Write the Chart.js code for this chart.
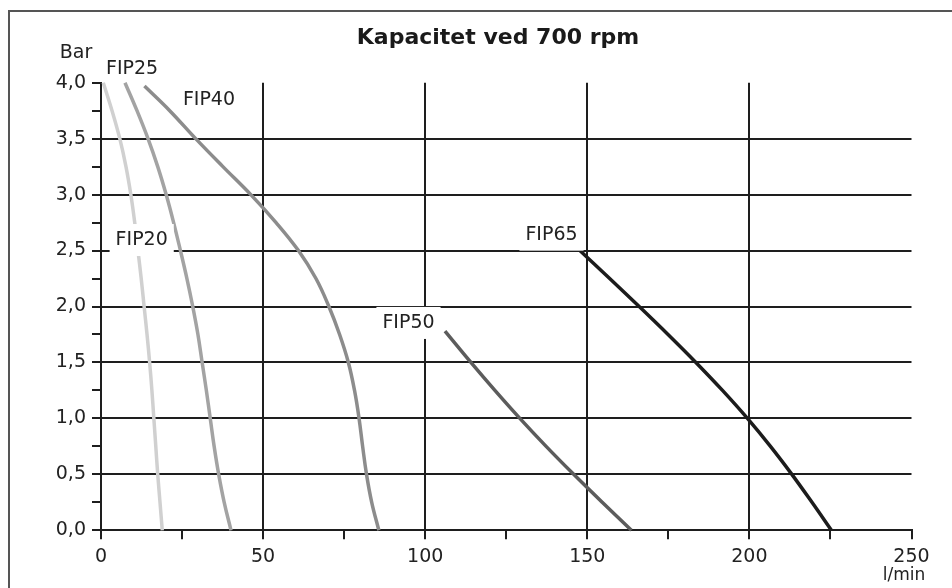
<!DOCTYPE html>
<html><head><meta charset="utf-8">
<script src="https://cdn.jsdelivr.net/npm/chart.js@4/dist/chart.umd.min.js"></script>
<style>html,body{margin:0;padding:0;background:#fff}#wrap{width:952px;height:588px;position:relative}</style>
</head><body><div id="wrap"><canvas id="c" width="952" height="588"></canvas></div>
<script>
const titleText = 'Kapacitet ved 700 rpm';
const yAxisTitle = 'Bar';
const xAxisTitle = 'l/min';

const fip20Flow = [0.7, 3.4, 5.8, 7.7, 9.2, 10.4, 11.4, 12.4, 13.3, 14.2, 15.0, 15.7, 16.3, 16.9, 17.5, 18.2, 18.9];
const fip20Bar  = [4.0, 3.75, 3.5, 3.25, 3.0, 2.75, 2.5, 2.25, 2.0, 1.75, 1.5, 1.25, 1.0, 0.75, 0.5, 0.25, 0.0];

const fip25Flow = [7.4, 11.1, 14.5, 17.5, 20.1, 22.4, 24.5, 26.5, 28.3, 29.9, 31.2, 32.5, 33.7, 34.9, 36.3, 38.0, 40.1];
const fip25Bar  = [4.0, 3.75, 3.5, 3.25, 3.0, 2.75, 2.5, 2.25, 2.0, 1.75, 1.5, 1.25, 1.0, 0.75, 0.5, 0.25, 0.0];

const fip40Flow = [13.4, 21.2, 29.2, 37.6, 46.2, 54.0, 60.9, 66.3, 70.3, 73.6, 76.3, 78.2, 79.6, 80.7, 81.9, 83.5, 85.7];
const fip40Bar  = [3.97, 3.75, 3.5, 3.25, 3.0, 2.75, 2.5, 2.25, 2.0, 1.75, 1.5, 1.25, 1.0, 0.75, 0.5, 0.25, 0.0];

const fip50Flow = [106.1, 114.1, 121.5, 129.2, 137.3, 145.8, 154.6, 163.6];
const fip50Bar  = [1.78, 1.5, 1.25, 1.0, 0.75, 0.5, 0.25, 0.0];

const fip65Flow = [147.7, 156.9, 166.0, 174.9, 183.5, 191.7, 199.4, 206.5, 213.1, 219.3, 225.3];
const fip65Bar  = [2.5, 2.25, 2.0, 1.75, 1.5, 1.25, 1.0, 0.75, 0.5, 0.25, 0.0];

const seriesNames = ['FIP20', 'FIP25', 'FIP40', 'FIP50', 'FIP65'];
const seriesFlows = [fip20Flow, fip25Flow, fip40Flow, fip50Flow, fip65Flow];
const seriesBars  = [fip20Bar, fip25Bar, fip40Bar, fip50Bar, fip65Bar];
const seriesColors = ['#d0d0d0', '#a3a3a3', '#8c8c8c', '#5c5c5c', '#1c1c1c'];

const xTickValues = [0, 50, 100, 150, 200, 250];
const xTickLabels = ['0', '50', '100', '150', '200', '250'];
const yTickValues = [0, 0.5, 1.0, 1.5, 2.0, 2.5, 3.0, 3.5, 4.0];
const yTickLabels = ['0,0', '0,5', '1,0', '1,5', '2,0', '2,5', '3,0', '3,5', '4,0'];

// label anchors (data coordinates, text centre)
const labelNames = ['FIP25', 'FIP40', 'FIP20', 'FIP50', 'FIP65'];
const labelFlow  = [9.6, 33.3, 12.55, 94.85, 138.96];
const labelBar   = [4.12, 3.846, 2.594, 1.853, 2.642];
const labelBoxed = [false, false, true, true, true];

const FONT = '"DejaVu Sans", "Liberation Sans", sans-serif';
const GRID = '#1e1e1e';

const datasets = seriesNames.map((n, i) => ({
  label: n,
  data: seriesFlows[i].map((x, j) => ({ x: x, y: seriesBars[i][j] })),
  borderColor: seriesColors[i],
  backgroundColor: seriesColors[i],
  borderWidth: 3.5,
  pointRadius: 0,
  fill: false,
  tension: 0.4,
  borderCapStyle: 'butt',
  clip: false
}));

const decor = {
  id: 'decor',
  beforeDraw(chart) {
    const ctx = chart.ctx;
    ctx.save();
    ctx.fillStyle = '#fff';
    ctx.fillRect(0, 0, chart.width, chart.height);
    ctx.strokeStyle = '#555';
    ctx.lineWidth = 2;
    ctx.beginPath();
    ctx.moveTo(9, chart.height);
    ctx.lineTo(9, 11);
    ctx.lineTo(chart.width, 11);
    ctx.stroke();
    ctx.restore();
  },
  afterDatasetsDraw(chart) {
    const ctx = chart.ctx;
    const xs = chart.scales.x, ys = chart.scales.y;
    const ca = chart.chartArea;
    ctx.save();
    ctx.font = '19px ' + FONT;
    ctx.textAlign = 'center';
    ctx.textBaseline = 'middle';
    labelNames.forEach((t, i) => {
      const cx = xs.getPixelForValue(labelFlow[i]);
      const cy = ys.getPixelForValue(labelBar[i]);
      const w = ctx.measureText(t).width;
      if (labelBoxed[i]) {
        ctx.fillStyle = '#fff';
        ctx.fillRect(cx - w / 2 - 6, cy - 16, w + 12, 32);
      }
      ctx.fillStyle = '#222';
      ctx.fillText(t, cx, cy);
    });
    ctx.font = '19px ' + FONT;
    ctx.fillText(yAxisTitle, ca.left - 25, ca.top - 30);
    ctx.font = '17px ' + FONT;
    ctx.fillText(xAxisTitle, xs.right - 7.5, ca.bottom + 45);
    ctx.restore();
  }
};

new Chart(document.getElementById('c'), {
  type: 'line',
  data: { datasets: datasets },
  plugins: [decor],
  options: {
    responsive: false,
    animation: false,
    layout: { padding: { left: 44, right: 0, top: 0, bottom: 0 } },
    plugins: {
      legend: { display: false },
      tooltip: { enabled: false },
      title: {
        display: true,
        text: titleText,
        color: '#1a1a1a',
        font: { family: FONT, size: 22, weight: 'bold', lineHeight: 1.2 },
        padding: { top: 24.8, bottom: 31.5 }
      }
    },
    scales: {
      x: {
        type: 'linear',
        min: 0, max: 250,
        afterFit(s) { s.height = 57.7; },
        afterBuildTicks(s) {
          const t = [];
          for (let v = 0; v <= 250; v += 25) t.push({ value: v });
          s.ticks = t;
        },
        ticks: {
          autoSkip: false,
          maxRotation: 0,
          padding: 6,
          color: '#222',
          font: { family: FONT, size: 19 },
          callback(v) { const k = xTickValues.indexOf(v); return k >= 0 ? xTickLabels[k] : ''; }
        },
        grid: {
          drawTicks: true,
          tickLength: 9,
          lineWidth: 2,
          tickWidth: 2,
          color(c) { const v = c.tick.value; return (v > 0 && v < 250 && v % 50 === 0) ? GRID : 'rgba(0,0,0,0)'; },
          tickColor: GRID
        },
        border: { display: true, color: GRID, width: 2 }
      },
      y: {
        type: 'linear',
        position: 'left',
        min: 0, max: 4,
        afterFit(s) { s.width = 57; },
        afterBuildTicks(s) {
          const t = [];
          for (let k = 0; k <= 16; k++) t.push({ value: k * 0.25 });
          s.ticks = t;
        },
        ticks: {
          autoSkip: false,
          padding: 6,
          color: '#222',
          font: { family: FONT, size: 19 },
          callback(v) {
            const k = yTickValues.findIndex(a => Math.abs(a - v) < 1e-6);
            return k >= 0 ? yTickLabels[k] : '';
          }
        },
        grid: {
          drawTicks: true,
          tickLength: 9,
          lineWidth: 2,
          tickWidth: 2,
          color(c) { const v = c.tick.value; return (v > 0.01 && v < 3.99 && Math.abs(v * 2 - Math.round(v * 2)) < 1e-6) ? GRID : 'rgba(0,0,0,0)'; },
          tickColor: GRID
        },
        border: { display: true, color: GRID, width: 2 }
      },
      ySpacer: {
        type: 'linear',
        position: 'right',
        display: true,
        min: 0, max: 4,
        afterFit(s) { s.width = 40.5; },
        ticks: { display: false },
        grid: { display: false, drawTicks: false },
        border: { display: false }
      }
    }
  }
});
</script>
</body></html>
